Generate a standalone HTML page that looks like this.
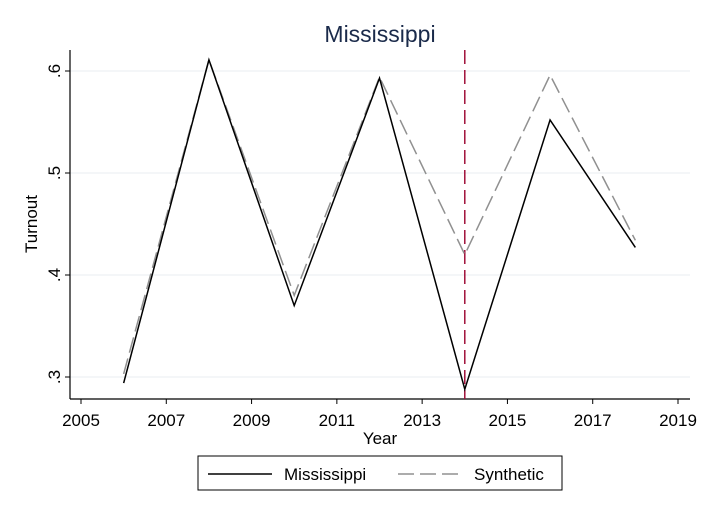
<!DOCTYPE html>
<html><head><meta charset="utf-8"><style>
body{margin:0;background:#fff;}
svg{display:block;font-family:"Liberation Sans",Arial,sans-serif;}
</style></head><body>
<svg id="chart" width="709" height="515">
<rect x="0" y="0" width="709" height="515" fill="#fff"/>
<text x="380" y="42" font-size="23" text-anchor="middle" fill="#1a2a4a">Mississippi</text>
<g id="grid"></g>
<g id="axes"></g>
<g id="lines"></g>
<text x="380" y="444" font-size="17" text-anchor="middle">Year</text>
<text transform="translate(37,224) rotate(-90)" font-size="17" text-anchor="middle">Turnout</text>
<g>
<rect x="198" y="456" width="364" height="34" fill="#fff" stroke="#000" stroke-width="1"/>
<line x1="208" y1="474" x2="272" y2="474" stroke="#000" stroke-width="1.5"/>
<text x="284" y="480" font-size="17">Mississippi</text>
<line x1="398" y1="474" x2="462" y2="474" stroke="#909090" stroke-width="1.5" stroke-dasharray="16,6"/>
<text x="474" y="480" font-size="17">Synthetic</text>
</g>
</svg>
<script>
const years=[2006,2008,2010,2012,2014,2016,2018];
const mississippi=[0.294,0.611,0.370,0.593,0.288,0.552,0.427];
const synthetic=[0.303,0.611,0.380,0.594,0.420,0.596,0.434];
const xTicks=[2005,2007,2009,2011,2013,2015,2017,2019];
const yTicks=[0.3,0.4,0.5,0.6];
const yTickLabels=[".3",".4",".5",".6"];
const treatYear=2014;
const NS="http://www.w3.org/2000/svg";
function x(v){return 81+(v-2005)*(678-81)/14;}
function y(v){return 377-(v-0.3)*(377-71)/0.3;}
function mk(tag,attrs,parent){const e=document.createElementNS(NS,tag);for(const k in attrs)e.setAttribute(k,attrs[k]);parent.appendChild(e);return e;}
const grid=document.getElementById('grid'),axes=document.getElementById('axes'),lines=document.getElementById('lines');
yTicks.forEach((t,i)=>{
 const g=mk('line',{x1:70,x2:690,y1:y(t),y2:y(t),stroke:'#e8eef0','stroke-width':1},grid);
 
 
 mk('line',{x1:65,x2:70,y1:y(t),y2:y(t),stroke:'#000'},axes);
 const tx=mk('text',{transform:`translate(60,${y(t)}) rotate(-90)`,'font-size':17,'text-anchor':'middle'},axes);
 tx.textContent=yTickLabels[i];
 
 
});
mk('line',{x1:70,x2:70,y1:50,y2:399,stroke:'#000','stroke-width':1.2},axes);
mk('line',{x1:70,x2:690,y1:399,y2:399,stroke:'#000','stroke-width':1.2},axes);
xTicks.forEach(t=>{
 mk('line',{x1:x(t),x2:x(t),y1:399,y2:404,stroke:'#000'},axes);
 const tx=mk('text',{x:x(t),y:426,'font-size':17,'text-anchor':'middle'},axes);
 tx.textContent=t;
 
 
});
const vl=mk('line',{x1:x(treatYear),x2:x(treatYear),y1:50,y2:399,stroke:'#a0103a','stroke-width':1.5,'stroke-dasharray':'14,6'},lines);


const ps=mk('polyline',{points:years.map((yr,i)=>x(yr)+','+y(synthetic[i])).join(' '),fill:'none',stroke:'#909090','stroke-width':1.5,'stroke-dasharray':'16,6'},lines);


const pm=mk('polyline',{points:years.map((yr,i)=>x(yr)+','+y(mississippi[i])).join(' '),fill:'none',stroke:'#000','stroke-width':1.5},lines);


</script>
</body></html>
